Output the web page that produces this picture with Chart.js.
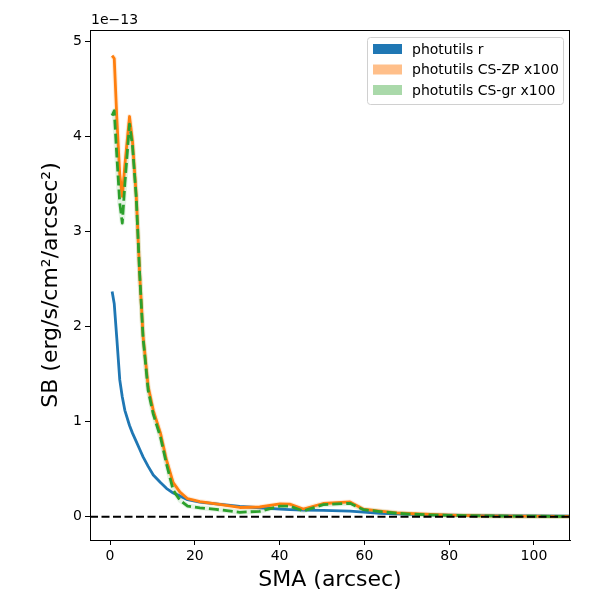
<!DOCTYPE html>
<html>
<head>
<meta charset="utf-8">
<script src="https://cdn.jsdelivr.net/npm/chart.js@4.4.1/dist/chart.umd.min.js"></script>
<style>
  html, body { margin: 0; padding: 0; background: #fff; }
</style>
</head>
<body>
<canvas id="sbChart" width="600" height="600"></canvas>
<script>
// surface brightness profiles, values in units of 1e-13
const sma = [0.5, 1.0, 1.6, 2.3, 2.9, 3.5, 4.6, 5.3, 6.2, 7.0, 7.8, 9.0, 10.2, 11.9, 13.3, 14.9,
    16.5, 18.3, 21.2, 25, 30.6, 35.3, 40.1, 42.4, 45.6, 50.3, 56.6, 59.8, 63.7, 67.7, 71.6, 75.6,
    80, 87.4, 95, 108.5];
const sbR = [2.37, 2.24, 1.88, 1.44, 1.26, 1.12, 0.96, 0.88, 0.79, 0.71, 0.63, 0.53, 0.44, 0.36, 0.30, 0.25,
    0.22, 0.18, 0.155, 0.135, 0.11, 0.095, 0.08, 0.075, 0.07, 0.068, 0.06, 0.05, 0.035, 0.03, 0.025, 0.02,
    0.017, 0.013, 0.01, 0.007];
const sbZp = [4.85, 4.82, 4.2, 3.6, 3.37, 3.7, 4.21, 3.95, 3.37, 2.55, 1.9, 1.37, 1.12, 0.88, 0.60, 0.36,
    0.26, 0.19, 0.16, 0.135, 0.098, 0.103, 0.135, 0.133, 0.082, 0.14, 0.156, 0.08, 0.06, 0.042, 0.032, 0.025,
    0.018, 0.01, 0.007, 0.004];
const sbGr = [4.22, 4.27, 3.8, 3.3, 3.09, 3.5, 4.13, 3.9, 3.35, 2.55, 1.88, 1.33, 1.08, 0.84, 0.56, 0.28,
    0.175, 0.113, 0.095, 0.078, 0.047, 0.058, 0.112, 0.112, 0.062, 0.128, 0.142, 0.075, 0.055, 0.037, 0.027, 0.02,
    0.015, 0.01, 0.007, 0.004];

const xTicks = [0, 20, 40, 60, 80, 100];
const yTicks = [0, 1, 2, 3, 4, 5];
const xLimits = [-4.72, 108.5];
const yLimits = [-0.244, 5.12];
const legendNames = ['photutils r', 'photutils CS-ZP x100', 'photutils CS-gr x100'];
const legendColors = ['#1f77b4', '#ffbf8a', '#aad9aa'];

function toPoints(ys) {
    return sma.map((x, i) => ({ x: x, y: ys[i] }));
}

const FONT = 'DejaVu Sans';

// frame, offset label, zero line and the legend box
const extras = {
    id: 'extras',
    afterDatasetsDraw(chart) {
        const { ctx, chartArea: a, scales } = chart;
        const y0 = scales.y.getPixelForValue(0);
        ctx.save();
        ctx.beginPath();
        ctx.rect(a.left, a.top, a.right - a.left, a.bottom - a.top);
        ctx.clip();
        ctx.strokeStyle = '#000';
        ctx.lineWidth = 2;
        ctx.setLineDash([8, 3.5]);
        ctx.beginPath();
        ctx.moveTo(a.left, y0);
        ctx.lineTo(a.right, y0);
        ctx.stroke();
        ctx.restore();
    },
    afterDraw(chart) {
        const { ctx, chartArea: a } = chart;
        ctx.save();
        ctx.strokeStyle = '#000';
        ctx.lineWidth = 1;
        ctx.strokeRect(a.left + 0.5, a.top + 0.5, a.right - a.left - 1, a.bottom - a.top);

        ctx.fillStyle = '#000';
        ctx.font = '14px "' + FONT + '"';
        ctx.textAlign = 'left';
        ctx.textBaseline = 'alphabetic';
        ctx.fillText('1e\u221213', a.left + 1, a.top - 6);

        // legend
        const bx = 367, by = 37, bw = 196, bh = 67;
        ctx.fillStyle = 'rgba(255,255,255,0.8)';
        ctx.strokeStyle = '#d0d0d0';
        ctx.beginPath();
        ctx.roundRect(bx + 0.5, by + 0.5, bw, bh, 3);
        ctx.fill();
        ctx.stroke();
        ctx.textBaseline = 'middle';
        legendNames.forEach((name, i) => {
            const cy = by + 12 + i * 20.5;
            ctx.fillStyle = legendColors[i];
            ctx.fillRect(bx + 6, cy - 5, 29, 10);
            ctx.fillStyle = '#000';
            ctx.fillText(name, bx + 45, cy + 1);
        });
        ctx.restore();
    }
};

const axisTicks = {
    font: { family: FONT, size: 14 },
    color: '#000',
    padding: 3
};
const axisGrid = {
    display: true,
    drawOnChartArea: false,
    drawTicks: true,
    tickLength: 5,
    tickColor: '#000',
    tickWidth: 1
};

new Chart(document.getElementById('sbChart'), {
    type: 'line',
    data: {
        datasets: [
            {
                label: legendNames[2],
                data: toPoints(sbGr),
                borderColor: '#2ca02c',
                borderWidth: 2.8,
                borderDash: [10, 4],
                order: 0
            },
            {
                label: legendNames[1],
                data: toPoints(sbZp),
                borderColor: '#ff7f0e',
                borderWidth: 2.8,
                order: 1
            },
            {
                label: legendNames[0],
                data: toPoints(sbR),
                borderColor: '#1f77b4',
                borderWidth: 2.8,
                order: 2
            },
            {
                label: 'gr band',
                data: toPoints(sbGr),
                borderColor: 'rgba(44,160,44,0.12)',
                borderWidth: 5,
                order: 3
            },
            {
                label: 'zp band',
                data: toPoints(sbZp),
                borderColor: 'rgba(255,127,14,0.14)',
                borderWidth: 5,
                order: 4
            }
        ]
    },
    options: {
        responsive: false,
        animation: false,
        devicePixelRatio: 1,
        parsing: false,
        elements: {
            point: { radius: 0 },
            line: { tension: 0, fill: false, borderCapStyle: 'butt', borderJoinStyle: 'round' }
        },
        layout: { padding: { top: 30, right: 30, left: 0, bottom: 0 } },
        plugins: {
            legend: { display: false },
            tooltip: { enabled: false }
        },
        scales: {
            x: {
                type: 'linear',
                min: xLimits[0],
                max: xLimits[1],
                afterBuildTicks: s => { s.ticks = xTicks.map(v => ({ value: v })); },
                afterFit: s => { s.height = 60; },
                ticks: axisTicks,
                grid: axisGrid,
                border: { display: true, color: '#000', width: 1 },
                title: {
                    display: true,
                    text: 'SMA (arcsec)',
                    color: '#000',
                    font: { family: FONT, size: 22, lineHeight: 1.2 },
                    padding: { top: 0, bottom: 7 }
                }
            },
            y: {
                type: 'linear',
                min: yLimits[0],
                max: yLimits[1],
                afterBuildTicks: s => { s.ticks = yTicks.map(v => ({ value: v })); },
                afterFit: s => { s.width = 90; },
                ticks: axisTicks,
                grid: axisGrid,
                border: { display: true, color: '#000', width: 1 },
                title: {
                    display: true,
                    text: 'SB (erg/s/cm\u00b2/arcsec\u00b2)',
                    color: '#000',
                    font: { family: FONT, size: 22, lineHeight: 1.2 },
                    padding: { top: 38, bottom: 0 }
                }
            }
        }
    },
    plugins: [extras]
});
</script>
</body>
</html>
